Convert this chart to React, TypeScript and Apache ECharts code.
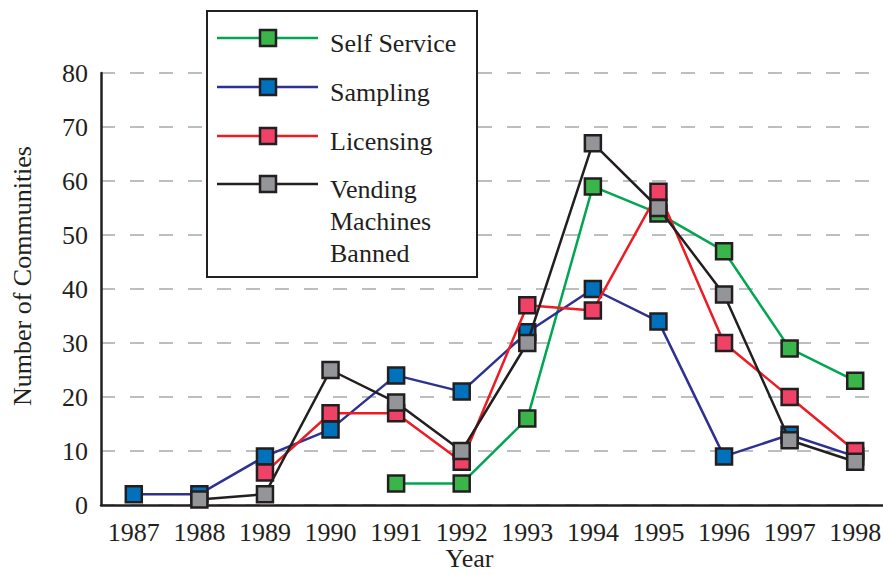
import React, { useEffect, useRef } from "react";
import * as echarts from "echarts";

const years = ["1987", "1988", "1989", "1990", "1991", "1992", "1993", "1994", "1995", "1996", "1997", "1998"];
const selfService = [null, null, null, null, 4, 4, 16, 59, 54, 47, 29, 23];
const sampling = [2, 2, 9, 14, 24, 21, 32, 40, 34, 9, 13, 9];
const licensing = [null, null, 6, 17, 17, 8, 37, 36, 58, 30, 20, 10];
const vending = [null, 1, 2, 25, 19, 10, 30, 67, 55, 39, 12, 8];

const seriesNames = ["Self Service", "Sampling", "Licensing", "Vending\nMachines\nBanned"];
const lineColors = ["#00a651", "#2e3192", "#ed1c24", "#231f20"];
const markerColors = ["#39b54a", "#0071bc", "#ef4266", "#939598"];

const FONT = '"Liberation Serif", "Times New Roman", serif';
const INK = "#231f20";

export default function App() {
  const ref = useRef<HTMLDivElement>(null);
  useEffect(() => {
    if (!ref.current) return;
    const chart = echarts.init(ref.current, null, { renderer: "svg" });
    const data = [selfService, sampling, licensing, vending];

    const legendRows = [38, 87, 136, 184];
    const legendGraphics: any[] = [
      {
        type: "rect",
        shape: { x: 207, y: 11, width: 270, height: 266 },
        style: { fill: "#fff", stroke: INK, lineWidth: 2 },
        z: 100,
      },
    ];
    seriesNames.forEach((name, i) => {
      const cy = legendRows[i];
      legendGraphics.push({
        type: "line",
        shape: { x1: 217, y1: cy, x2: 318, y2: cy },
        style: { stroke: lineColors[i], lineWidth: 2.5 },
        z: 101,
      });
      legendGraphics.push({
        type: "rect",
        shape: { x: 268 - 8, y: cy - 8, width: 16, height: 16 },
        style: { fill: markerColors[i], stroke: INK, lineWidth: 2.5 },
        z: 102,
      });
      legendGraphics.push({
        type: "text",
        x: 330,
        y: cy + 5 - 16,
        style: {
          text: name,
          fontFamily: FONT,
          fontSize: 26,
          lineHeight: 32,
          fill: INK,
          verticalAlign: "top",
          align: "left",
        },
        z: 102,
      });
    });

    chart.setOption({
      animation: false,
      backgroundColor: "#fff",
      grid: { left: 101, right: -5, top: 73, bottom: 70, containLabel: false, outerBoundsMode: "none" },
      xAxis: {
        type: "category",
        data: years,
        boundaryGap: true,
        axisLine: { lineStyle: { color: INK, width: 2.5 } },
        axisTick: { inside: true, length: 10, interval: 0, lineStyle: { color: INK, width: 2.5 } },
        axisLabel: { interval: 0, fontFamily: FONT, fontSize: 26, color: INK, margin: 14 },
        name: "Year",
        nameLocation: "middle",
        nameGap: 40,
        nameMoveOverlap: false,
        nameTextStyle: { fontFamily: FONT, fontSize: 26, lineHeight: 26, color: INK, padding: [0, 50, 0, 0] },
        splitLine: { show: false },
      },
      yAxis: {
        type: "value",
        min: 0,
        max: 80,
        interval: 10,
        axisLine: { show: true, lineStyle: { color: INK, width: 2.5 } },
        axisTick: { show: false },
        axisLabel: { fontFamily: FONT, fontSize: 26, color: INK, margin: 13 },
        splitLine: { show: true, lineStyle: { color: "#a7a9ac", width: 1.5, type: [14, 15] } },
        name: "Number of Communities",
        nameLocation: "middle",
        nameGap: 66,
        nameMoveOverlap: false,
        nameTextStyle: { fontFamily: FONT, fontSize: 26, color: INK, padding: [0, 0, 0, 26] },
      },
      series: data.map((d, i) => ({
        type: "line",
        name: seriesNames[i],
        data: d,
        symbol: "rect",
        symbolSize: 16,
        showAllSymbol: true,
        connectNulls: false,
        lineStyle: { color: lineColors[i], width: 2.5 },
        itemStyle: { color: markerColors[i], borderColor: INK, borderWidth: 2.5 },
        z: 2 + i,
      })),
      graphic: legendGraphics,
    });
    return () => chart.dispose();
  }, []);
  return (
    <div
      ref={ref}
      style={{ position: "absolute", left: 0, top: 0, width: 883, height: 575 }}
    />
  );
}
